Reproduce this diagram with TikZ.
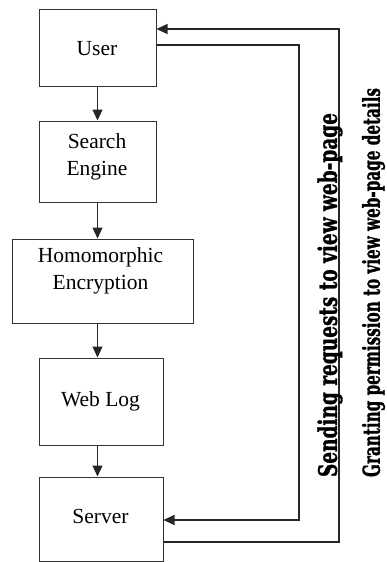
\documentclass[tikz,border=0pt]{standalone}
\usepackage{fontspec}
\setmainfont{Liberation Serif}
\newfontfamily\condfont{DejaVu Serif Condensed Bold}[FakeBold=1.2]
\usetikzlibrary{arrows.meta}
\begin{document}
\begin{tikzpicture}[x=1pt,y=-1pt,
  box/.style={draw=black!80, line width=1pt, rectangle, inner sep=0pt},
  lbl/.style={inner sep=0pt, anchor=base, align=center,
    font=\fontsize{21.5}{27}\selectfont},
  link/.style={draw=black!85, line width=1.1pt},
  arr/.style={link, -{Triangle[length=11pt,width=10pt]}},
  side/.style={inner sep=0pt, rotate=90, font=\condfont}]
\useasboundingbox (0,0) rectangle (387,562);

% process boxes
\node[box, minimum width=117pt, minimum height=77pt] (user)   at (97.5,47.5)  {};
\node[box, minimum width=117pt, minimum height=81pt] (search) at (97.5,161.5) {};
\node[box, minimum width=181pt, minimum height=84pt] (homo)   at (102.5,281)  {};
\node[box, minimum width=124pt, minimum height=87pt] (weblog) at (101,401.5)  {};
\node[box, minimum width=124pt, minimum height=84pt] (server) at (101,519)    {};

% box labels (base anchor sits on the last line)
\node[lbl] (tuser)   at (97,55)    {User};
\node[lbl] (tsearch) at (97,175)   {Search\\Engine};
\node[lbl] (thomo)   at (100.5,289){Homomorphic\\Encryption};
\node[lbl] (tweb)    at (100.5,406){Web Log};
\node[lbl] (tserver) at (100.5,523){Server};

% vertical flow
\draw[arr] (user.south) -- (search.north);
\draw[arr] (search.south) -- (search.south |- homo.north);
\draw[arr] (homo.south -| user.south) -- (weblog.north -| user.south);
\draw[arr] (weblog.south -| user.south) -- (server.north -| user.south);

% feedback loops
\coordinate (inTR)  at (299,45);
\coordinate (inBR)  at (299,520);
\coordinate (outTR) at (339,29);
\coordinate (outBR) at (339,542);
\draw[arr] (user.east |- inTR) -- (inTR) -- (inBR) -- (server.east |- inBR);
\draw[arr] (server.east |- outBR) -- (outBR) -- (outTR) -- (user.east |- outTR);

% loop captions
\node[side] (send) at (330,295)
  {\resizebox*{364pt}{25pt}{Sending requests to view web-page}};
\node[side] (grant) at (373.5,282.5)
  {\resizebox*{389pt}{23pt}{Granting permission to view web-page details}};
\end{tikzpicture}
\end{document}
